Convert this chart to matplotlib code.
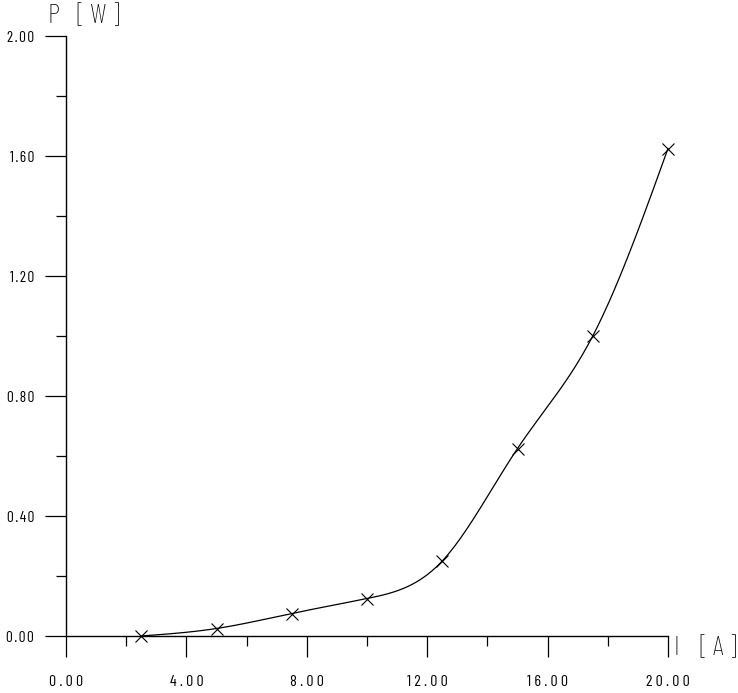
import numpy as np
import matplotlib
matplotlib.use("Agg")
import matplotlib.pyplot as plt

# measured points
current = [2.5, 5.0, 7.5, 10.0, 12.5, 15.0, 17.5, 20.0]
power = [0.0, 0.025, 0.075, 0.125, 0.25, 0.625, 1.0, 1.625]

x_ticks = [0, 4, 8, 12, 16, 20]
y_ticks = [0.0, 0.4, 0.8, 1.2, 1.6, 2.0]


def spaced(s, sep="\u2009"):
    # plotter style letter spacing
    return sep.join(s)


def natural_spline(x, y, n=400):
    x = np.asarray(x, float)
    y = np.asarray(y, float)
    k = len(x)
    h = np.diff(x)
    A = np.zeros((k, k))
    b = np.zeros(k)
    A[0, 0] = 1
    A[-1, -1] = 1
    for i in range(1, k - 1):
        A[i, i - 1] = h[i - 1]
        A[i, i] = 2 * (h[i - 1] + h[i])
        A[i, i + 1] = h[i]
        b[i] = 3 * ((y[i + 1] - y[i]) / h[i] - (y[i] - y[i - 1]) / h[i - 1])
    c = np.linalg.solve(A, b)
    xs = np.linspace(x[0], x[-1], n)
    ys = np.empty_like(xs)
    for j, xv in enumerate(xs):
        i = min(np.searchsorted(x, xv, side="right") - 1, k - 2)
        d = xv - x[i]
        bi = (y[i + 1] - y[i]) / h[i] - h[i] * (2 * c[i] + c[i + 1]) / 3
        di = (c[i + 1] - c[i]) / (3 * h[i])
        ys[j] = y[i] + bi * d + c[i] * d ** 2 + di * d ** 3
    return xs, ys


plt.rcParams['font.family'] = ['Barlow Condensed', 'DejaVu Sans']
plt.rcParams['font.weight'] = 'normal'

fig = plt.figure(figsize=(7.38, 6.93), dpi=100)
ax = fig.add_axes([66 / 738, 57 / 693, 602 / 738, 600 / 693])

xs, ys = natural_spline(current, power)
ax.plot(xs, ys, color="black", lw=0.9, clip_on=False)
ax.plot(current, power, ls="none", marker="x", ms=9, mew=0.8, color="black", clip_on=False)

ax.set_xlim(0, 20)
ax.set_ylim(0, 2.0)
ax.spines["top"].set_visible(False)
ax.spines["right"].set_visible(False)
for s in ["left", "bottom"]:
    ax.spines[s].set_linewidth(1.0)

ax.set_xticks(x_ticks)
ax.set_xticklabels([spaced("%.2f" % v) for v in x_ticks])
ax.set_xticks(np.arange(2, 20, 4), minor=True)
ax.set_yticks(y_ticks)
ax.set_yticklabels([spaced("%.2f" % v, "\u200a") for v in y_ticks])
ax.set_yticks(np.arange(0.2, 2.0, 0.4), minor=True)

ax.tick_params(which="major", length=15, width=0.9, labelsize=11, pad=8)
ax.tick_params(which="minor", length=7.5, width=0.9)
ax.tick_params(axis="x", which="major", pad=13, labelsize=11.5)

fig.text(47 / 738, 1 - 16 / 693, "P", fontsize=20, fontweight="light", ha="left", va="center")
fig.text(77 / 738, 1 - 16 / 693, "[ W ]", fontsize=20, fontweight="light", ha="left", va="center")
fig.text(674 / 738, 1 - 648 / 693, "I", fontsize=20, fontweight="light", ha="left", va="center")
fig.text(700 / 738, 1 - 648 / 693, "[ A ]", fontsize=20, fontweight="light", ha="left", va="center")

fig.savefig("out.png", dpi=100)
